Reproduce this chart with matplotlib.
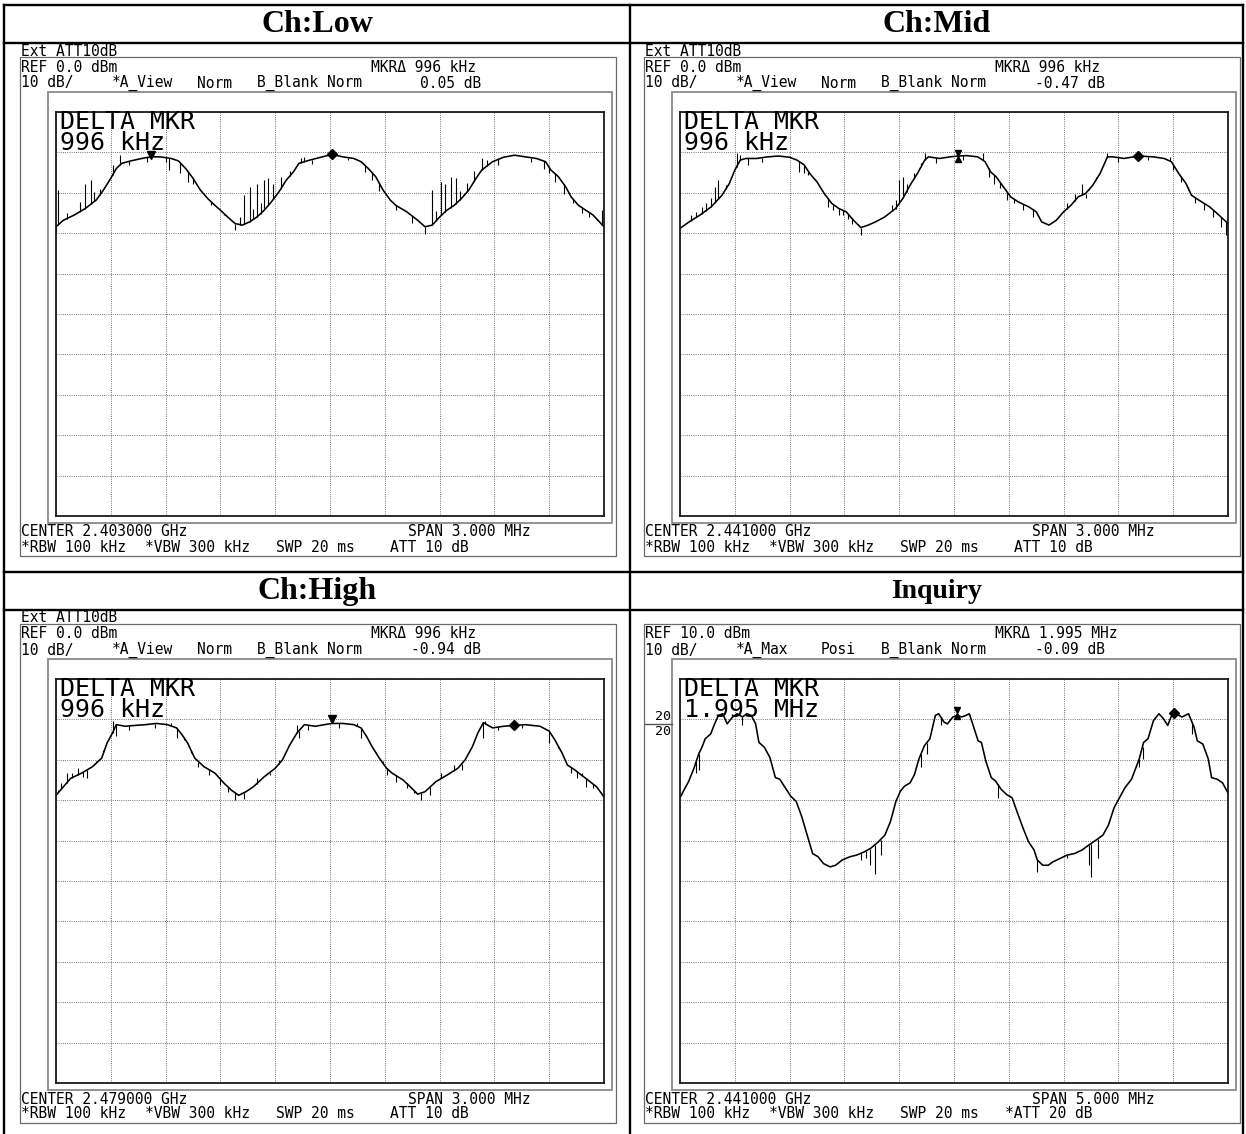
import numpy as np
import matplotlib
matplotlib.use("Agg")
import matplotlib.pyplot as plt
from matplotlib.patches import Rectangle
from matplotlib.lines import Line2D

W, H, DPI = 1246, 1134, 100

# ---------------- data ----------------
TITLES = ["Ch:Low", "Ch:Mid", "Ch:High", "Inquiry"]
REF_LEVELS = [0.0, 0.0, 0.0, 10.0]
SPANS = [3.0, 3.0, 3.0, 5.0]
EXT_TEXT = ["Ext ATT10dB", "Ext ATT10dB", "Ext ATT10dB", ""]
REF_TEXT = ["REF 0.0 dBm", "REF 0.0 dBm", "REF 0.0 dBm", "REF 10.0 dBm"]
MKR_TEXT = ["MKR\u0394 996 kHz", "MKR\u0394 996 kHz", "MKR\u0394 996 kHz", "MKR\u0394 1.995 MHz"]
TRACE_MODE = ["*A_View", "*A_View", "*A_View", "*A_Max"]
DET_MODE = ["Norm", "Norm", "Norm", "Posi"]
DELTA_DB = ["0.05 dB", "-0.47 dB", "-0.94 dB", "-0.09 dB"]
CENTER_TEXT = ["CENTER 2.403000 GHz", "CENTER 2.441000 GHz", "CENTER 2.479000 GHz", "CENTER 2.441000 GHz"]
SPAN_TEXT = ["SPAN 3.000 MHz", "SPAN 3.000 MHz", "SPAN 3.000 MHz", "SPAN 5.000 MHz"]
ATT_TEXT = ["ATT 10 dB", "ATT 10 dB", "ATT 10 dB", "*ATT 20 dB"]
DELTA_FREQ_TEXT = ["996 kHz", "996 kHz", "996 kHz", "1.995 MHz"]

# Ch:Low trace (MHz offset from centre, dBm)
LOW_F = [-1.50, -1.46, -1.40, -1.34, -1.28, -1.24, -1.20, -1.17, -1.14, -1.09,
         -1.03, -0.98, -0.93, -0.87, -0.83, -0.79, -0.75, -0.71, -0.67, -0.63,
         -0.60, -0.56, -0.52, -0.48, -0.44, -0.40, -0.36, -0.32, -0.28, -0.24,
         -0.20, -0.17, -0.11, -0.05, 0.01, 0.07, 0.13, 0.17, 0.21, 0.25,
         0.29, 0.33, 0.36, 0.42, 0.48, 0.52, 0.56, 0.60, 0.64, 0.68,
         0.72, 0.76, 0.80, 0.83, 0.89, 0.95, 1.01, 1.07, 1.13, 1.18,
         1.21, 1.25, 1.29, 1.32, 1.36, 1.40, 1.44, 1.50]
LOW_DB = [-28.4, -26.8, -25.5, -23.9, -21.8, -19.3, -16.4, -14.0, -12.7, -12.1,
          -11.5, -11.1, -11.1, -11.5, -12.1, -14.0, -16.4, -19.3, -21.4, -23.1,
          -24.3, -26.0, -27.6, -28.0, -27.2, -26.0, -24.3, -22.2, -19.8, -16.9,
          -14.8, -12.7, -11.9, -11.2, -10.5, -11.1, -11.5, -12.3, -14.0, -16.0,
          -19.3, -21.8, -23.1, -24.7, -26.8, -28.4, -28.0, -26.0, -24.3, -23.1,
          -21.4, -19.3, -16.4, -14.4, -12.3, -11.2, -10.7, -11.1, -11.5, -12.3,
          -14.4, -16.0, -18.5, -21.0, -23.1, -24.3, -25.5, -28.4]
LOW_SPK_F = [-1.50, -1.49, -1.44, -1.37, -1.34, -1.31, -1.29, -1.26, -1.19, -1.15,
             -1.10, -1.00, -0.90, -0.88, -0.82, -0.78, -0.75, -0.65, -0.58, -0.52,
             -0.49, -0.47, -0.44, -0.42, -0.40, -0.38, -0.36, -0.34, -0.31, -0.27,
             -0.22, -0.16, -0.14, -0.10, 0.10, 0.19, 0.23, 0.27, 0.36, 0.45,
             0.52, 0.56, 0.58, 0.61, 0.63, 0.66, 0.69, 0.71, 0.75, 0.79,
             0.83, 0.86, 0.92, 1.10, 1.17, 1.20, 1.23, 1.28, 1.33, 1.38,
             1.42, 1.46, 1.49]
LOW_SPK_DB = [-29.7, -19.3, -25.0, -22.3, -17.7, -16.9, -19.8, -19.0, -13.1, -10.7,
              -13.0, -12.3, -12.4, -14.4, -15.2, -17.3, -17.7, -23.0, -25.5, -29.3,
              -26.0, -20.6, -18.5, -24.0, -17.7, -22.5, -16.9, -16.4, -17.7, -16.0,
              -14.5, -11.5, -11.1, -12.8, -12.0, -14.8, -16.9, -19.6, -24.3, -27.5,
              -30.1, -19.3, -24.5, -17.3, -17.7, -16.0, -16.4, -19.5, -17.5, -14.5,
              -11.5, -11.9, -13.0, -12.3, -14.0, -15.2, -17.4, -20.2, -22.6, -25.1,
              -26.0, -26.8, -24.3]

# Ch:Mid trace
MID_F = [-1.50, -1.45, -1.39, -1.33, -1.27, -1.23, -1.20, -1.17, -1.14, -1.08,
         -1.02, -0.96, -0.90, -0.86, -0.82, -0.79, -0.75, -0.71, -0.67, -0.63,
         -0.59, -0.55, -0.51, -0.47, -0.43, -0.38, -0.32, -0.28, -0.24, -0.20,
         -0.16, -0.14, -0.08, -0.02, 0.02, 0.07, 0.13, 0.17, 0.20, 0.23,
         0.27, 0.31, 0.35, 0.41, 0.45, 0.48, 0.52, 0.56, 0.60, 0.64,
         0.68, 0.72, 0.76, 0.80, 0.84, 0.87, 0.93, 1.01, 1.09, 1.15,
         1.19, 1.23, 1.27, 1.30, 1.34, 1.40, 1.44, 1.50]
MID_DB = [-28.8, -27.2, -25.5, -23.5, -20.6, -17.7, -14.4, -11.9, -11.5, -11.5,
          -11.1, -10.9, -11.2, -11.9, -13.1, -15.2, -17.3, -20.2, -22.6, -23.9,
          -24.7, -26.8, -28.6, -28.0, -27.2, -26.0, -23.9, -21.4, -18.1, -15.2,
          -11.9, -11.1, -11.5, -11.1, -10.9, -10.8, -11.1, -12.3, -14.8, -16.0,
          -18.5, -21.0, -22.2, -23.5, -24.7, -27.2, -28.0, -26.8, -24.7, -23.1,
          -21.0, -20.2, -18.1, -15.2, -11.1, -11.1, -11.5, -10.9, -11.1, -11.5,
          -12.3, -15.2, -17.7, -20.6, -21.8, -23.5, -25.1, -27.6]
MID_SPK_F = [-1.47, -1.44, -1.41, -1.38, -1.36, -1.33, -1.31, -1.29, -1.25, -1.21,
             -1.19, -1.17, -1.13, -1.05, -0.85, -0.82, -0.80, -0.69, -0.66, -0.63,
             -0.61, -0.58, -0.56, -0.51, -0.34, -0.32, -0.30, -0.28, -0.26, -0.22,
             -0.18, -0.16, -0.10, 0.05, 0.16, 0.19, 0.22, 0.25, 0.29, 0.33,
             0.38, 0.43, 0.62, 0.66, 0.70, 0.72, 0.74, 0.78, 0.84, 0.90,
             1.06, 1.18, 1.20, 1.24, 1.28, 1.32, 1.37, 1.42, 1.46, 1.49]
MID_SPK_DB = [-27.6, -25.5, -24.7, -23.5, -22.6, -21.4, -18.5, -16.9, -18.1, -15.6,
              -10.2, -10.7, -13.1, -12.3, -14.8, -15.2, -15.6, -23.5, -24.3, -25.5,
              -25.5, -26.4, -27.6, -30.5, -23.1, -21.8, -16.9, -16.0, -17.7, -15.2,
              -12.7, -10.2, -12.7, -12.0, -10.2, -16.0, -17.7, -18.9, -21.8, -22.6,
              -24.3, -26.0, -22.6, -20.2, -17.7, -21.4, -19.3, -16.0, -10.2, -12.3,
              -12.0, -11.1, -14.4, -17.3, -19.3, -22.6, -24.3, -26.0, -28.4, -30.5]

# Ch:High trace
HIGH_F = [-1.50, -1.46, -1.42, -1.36, -1.30, -1.25, -1.22, -1.19, -1.17, -1.12,
          -1.07, -1.01, -0.95, -0.89, -0.84, -0.81, -0.78, -0.74, -0.69, -0.63,
          -0.58, -0.54, -0.50, -0.46, -0.42, -0.36, -0.30, -0.26, -0.22, -0.18,
          -0.14, -0.08, -0.03, 0.01, 0.07, 0.13, 0.17, 0.20, 0.23, 0.27,
          0.31, 0.34, 0.40, 0.44, 0.48, 0.52, 0.58, 0.64, 0.70, 0.74,
          0.78, 0.81, 0.84, 0.89, 0.95, 1.01, 1.07, 1.15, 1.20, 1.23,
          1.27, 1.30, 1.34, 1.40, 1.46, 1.50]
HIGH_DB = [-28.8, -26.7, -24.6, -23.3, -21.7, -19.6, -15.8, -13.3, -11.3, -11.7,
           -11.5, -11.3, -11.0, -11.3, -12.1, -13.8, -15.8, -19.6, -21.7, -23.3,
           -25.8, -27.5, -28.8, -27.9, -26.7, -24.2, -22.1, -20.0, -16.3, -13.3,
           -11.3, -11.7, -11.3, -11.0, -11.0, -11.3, -12.1, -14.2, -16.7, -19.6,
           -22.1, -23.3, -25.0, -26.7, -28.5, -27.9, -25.4, -23.8, -22.1, -20.0,
           -16.7, -13.3, -10.8, -12.1, -11.7, -11.5, -11.3, -11.7, -12.9, -15.0,
           -18.3, -21.3, -22.5, -24.6, -26.7, -29.2]
HIGH_SPK_F = [-1.49, -1.47, -1.44, -1.41, -1.38, -1.35, -1.33, -1.28, -1.24, -1.19,
              -1.17, -1.10, -0.96, -0.87, -0.84, -0.80, -0.76, -0.72, -0.66, -0.60,
              -0.56, -0.52, -0.47, -0.40, -0.33, -0.28, -0.18, -0.17, -0.12, 0.05,
              0.15, 0.17, 0.25, 0.29, 0.31, 0.36, 0.42, 0.46, 0.50, 0.55,
              0.61, 0.68, 0.72, 0.84, 0.85, 0.92, 1.05, 1.20, 1.25, 1.32,
              1.35, 1.38, 1.40, 1.44, 1.48]
HIGH_SPK_DB = [-27.5, -25.8, -23.3, -23.3, -22.1, -24.3, -24.6, -20.4, -17.5, -10.3,
               -14.2, -12.5, -12.1, -10.8, -14.6, -15.0, -18.3, -21.7, -23.8, -26.3,
               -28.0, -30.0, -29.6, -24.6, -23.8, -20.0, -11.5, -14.6, -12.5, -12.1,
               -11.0, -14.6, -18.3, -20.4, -23.8, -25.4, -27.1, -28.3, -30.0, -28.8,
               -23.3, -21.3, -22.5, -14.6, -10.5, -12.5, -12.1, -15.8, -17.1, -23.3,
               -24.6, -23.3, -26.7, -27.1, -27.9]

# Inquiry trace
INQ_F = [-2.50, -2.46, -2.42, -2.37, -2.33, -2.30, -2.27, -2.22, -2.19, -2.15,
         -2.11, -2.07, -2.02, -1.98, -1.93, -1.89, -1.85, -1.81, -1.78, -1.73,
         -1.68, -1.63, -1.59, -1.54, -1.49, -1.44, -1.39, -1.34, -1.29, -1.24,
         -1.19, -1.13, -1.08, -1.02, -0.95, -0.89, -0.82, -0.76, -0.69, -0.63,
         -0.58, -0.53, -0.49, -0.45, -0.40, -0.36, -0.32, -0.27, -0.22, -0.17,
         -0.14, -0.09, -0.06, -0.01, 0.03, 0.07, 0.11, 0.14, 0.17, 0.22,
         0.25, 0.29, 0.34, 0.38, 0.43, 0.48, 0.53, 0.58, 0.63, 0.68,
         0.73, 0.76, 0.81, 0.86, 0.90, 0.97, 1.03, 1.10, 1.17, 1.23,
         1.30, 1.36, 1.41, 1.46, 1.51, 1.56, 1.62, 1.69, 1.73, 1.77,
         1.82, 1.87, 1.91, 1.95, 1.98, 2.01, 2.08, 2.14, 2.19, 2.22,
         2.27, 2.32, 2.35, 2.40, 2.45, 2.50]
INQ_DB = [-19.4, -17.3, -15.3, -11.9, -8.6, -6.9, -4.8, -3.6, -1.5, 1.0,
          1.4, -1.1, 0.6, 1.4, 0.6, 1.4, 1.0, -1.1, -5.7, -6.9,
          -9.4, -14.4, -14.8, -16.9, -19.0, -20.3, -24.0, -28.6, -33.2, -34.0,
          -35.7, -36.5, -36.1, -34.8, -34.0, -33.6, -32.8, -31.9, -30.3, -28.6,
          -25.3, -20.3, -17.8, -16.5, -15.7, -13.6, -9.8, -6.5, -4.8, 1.0,
          1.4, -0.7, -1.1, 0.6, 1.0, 0.6, 1.0, 1.4, -1.1, -5.3,
          -5.7, -10.3, -14.4, -15.3, -17.3, -18.6, -19.4, -23.2, -26.9, -30.3,
          -32.3, -34.8, -36.1, -36.1, -35.3, -34.4, -33.6, -33.2, -32.3, -31.1,
          -29.8, -28.6, -26.1, -21.9, -19.4, -16.9, -14.8, -9.8, -5.7, -4.8,
          -0.3, 1.4, 0.2, -1.5, 0.6, 1.6, 0.6, 1.4, -1.9, -5.3,
          -6.1, -9.8, -14.4, -14.8, -15.7, -18.2]
INQ_SPK_F = [-2.35, -2.33, -1.93, -0.85, -0.80, -0.77, -0.72, -0.67, -0.30, -0.25,
             -0.12, 0.40, 0.76, 1.03, 1.23, 1.25, 1.31, 1.69, 1.72, 2.17]
INQ_SPK_DB = [-13.2, -12.6, -1.5, -34.8, -34.4, -36.1, -38.2, -33.6, -11.9, -8.6,
              -1.5, -19.4, -37.8, -34.4, -36.1, -39.0, -34.4, -11.9, -9.8, -3.6]

# markers: reference marker and delta marker (MHz, dBm)
REF_MKR_F = [-0.98, 0.02, 0.01, 0.03]
REF_MKR_DB = [-10.6, -10.9, -9.8, 1.6]
REF_MKR_KIND = ["tri", "hour", "tri", "hour"]
DLT_MKR_F = [0.01, 1.01, 1.01, 2.01]
DLT_MKR_DB = [-10.5, -10.9, -11.5, 1.6]

TRACES = [(LOW_F, LOW_DB, LOW_SPK_F, LOW_SPK_DB),
          (MID_F, MID_DB, MID_SPK_F, MID_SPK_DB),
          (HIGH_F, HIGH_DB, HIGH_SPK_F, HIGH_SPK_DB),
          (INQ_F, INQ_DB, INQ_SPK_F, INQ_SPK_DB)]

# ---------------- layout ----------------
COL_DX = [0, 624]
ROW_DY = [0, 567]
MONO = "DejaVu Sans Mono"
SERIF = "Liberation Serif"
FS = 10.5

fig = plt.figure(figsize=(W / DPI, H / DPI), dpi=DPI)
fig.patch.set_facecolor("white")
ov = fig.add_axes([0, 0, 1, 1])
ov.set_xlim(0, W)
ov.set_ylim(H, 0)
ov.axis("off")


def fa(x0, y0, x1, y1):
    return [x0 / W, 1 - y1 / H, (x1 - x0) / W, (y1 - y0) / H]


# table lines
TLW = 1.7
for x in (4, 630, 1243):
    ov.add_line(Line2D([x, x], [5, H + 5], color="black", lw=TLW))
for y in (5, 43, 572, 610):
    ov.add_line(Line2D([4, 1243], [y, y], color="black", lw=TLW))

title_x = [317, 936.5]
title_y = [24, 591]
title_fs = [23, 23, 23, 20]

BIG_FS = 18
for i in range(4):
    r, c = divmod(i, 2)
    dx, dy = COL_DX[c], ROW_DY[r]
    ov.text(title_x[c], title_y[r], TITLES[i], ha="center", va="center",
            fontsize=title_fs[i], family=SERIF, fontweight="bold")

    # instrument frames
    ov.add_patch(Rectangle((20 + dx, 57 + dy), 596, 499, fill=False,
                           ec="#6a6a6a", lw=0.9))
    ov.add_patch(Rectangle((48 + dx, 92 + dy), 564, 431, fill=False,
                           ec="#8a8a8a", lw=1.3))

    def t(x, y, s, ha="left", fs=FS):
        ov.text(x + dx, y + dy, s, ha=ha, va="center", fontsize=fs,
                family=MONO, color="black")

    if EXT_TEXT[i]:
        t(21, 51, EXT_TEXT[i])
    t(21, 67, REF_TEXT[i])
    t(371, 67, MKR_TEXT[i])
    t(21, 83, "10 dB/")
    t(112, 83, TRACE_MODE[i])
    t(197, 83, DET_MODE[i])
    t(257, 83, "B_Blank Norm")
    t(481, 83, DELTA_DB[i], ha="right")
    t(21, 532, CENTER_TEXT[i])
    t(408, 532, SPAN_TEXT[i])
    t(21, 547, "*RBW 100 kHz")
    t(145, 547, "*VBW 300 kHz")
    t(276, 547, "SWP 20 ms")
    t(390 if not ATT_TEXT[i].startswith("*") else 381, 547, ATT_TEXT[i])

    if i == 3:
        ov.text(31 + dx, 157 + dy, "20\n20", ha="left", va="center",
                fontsize=9.5, family=MONO, linespacing=1.15)
        ov.add_line(Line2D([21 + dx, 48 + dx], [157 + dy, 157 + dy],
                           color="#555555", lw=1.0))

    # grid axes
    gx0, gy0, gx1, gy1 = 56 + dx, 112 + dy, 604 + dx, 516 + dy
    ax = fig.add_axes(fa(gx0, gy0, gx1, gy1))
    ref, span = REF_LEVELS[i], SPANS[i]
    ax.set_xlim(-span / 2, span / 2)
    ax.set_ylim(ref - 100, ref)
    ax.set_xticks(np.linspace(-span / 2, span / 2, 11))
    ax.set_yticks(np.linspace(ref - 100, ref, 11))
    ax.tick_params(length=0, labelbottom=False, labelleft=False)
    ax.grid(True, color="#4a4a4a", lw=0.6, ls=(0, (1, 1.6)))
    for sp in ax.spines.values():
        sp.set_color("#1a1a1a")
        sp.set_linewidth(1.3)
    ax.set_facecolor("white")

    f, db, sf, sdb = TRACES[i]
    ax.plot(f, db, color="black", lw=1.15)
    base = np.interp(sf, f, db)
    ax.vlines(sf, base, sdb, color="black", lw=0.8)

    # markers
    mf, md = REF_MKR_F[i], REF_MKR_DB[i]
    if REF_MKR_KIND[i] == "tri":
        ax.plot([mf], [md], marker="v", ms=6, color="black", ls="none")
    else:
        ax.plot([mf], [md + 0.7], marker="v", ms=5, color="black", ls="none")
        ax.plot([mf], [md - 0.7], marker="^", ms=5, color="black", ls="none")
    ax.plot([DLT_MKR_F[i]], [DLT_MKR_DB[i]], marker="D", ms=5, color="black",
            ls="none")

    line_px = 21.0
    ax.text((60 - 56) / 548, 1 - (132.5 - 112) / 404,
            "DELTA MKR\n" + DELTA_FREQ_TEXT[i],
            transform=ax.transAxes, ha="left", va="center", fontsize=BIG_FS,
            family=MONO, color="black",
            linespacing=line_px / (BIG_FS * DPI / 72))

fig.savefig("out.png", dpi=DPI, facecolor="white")
